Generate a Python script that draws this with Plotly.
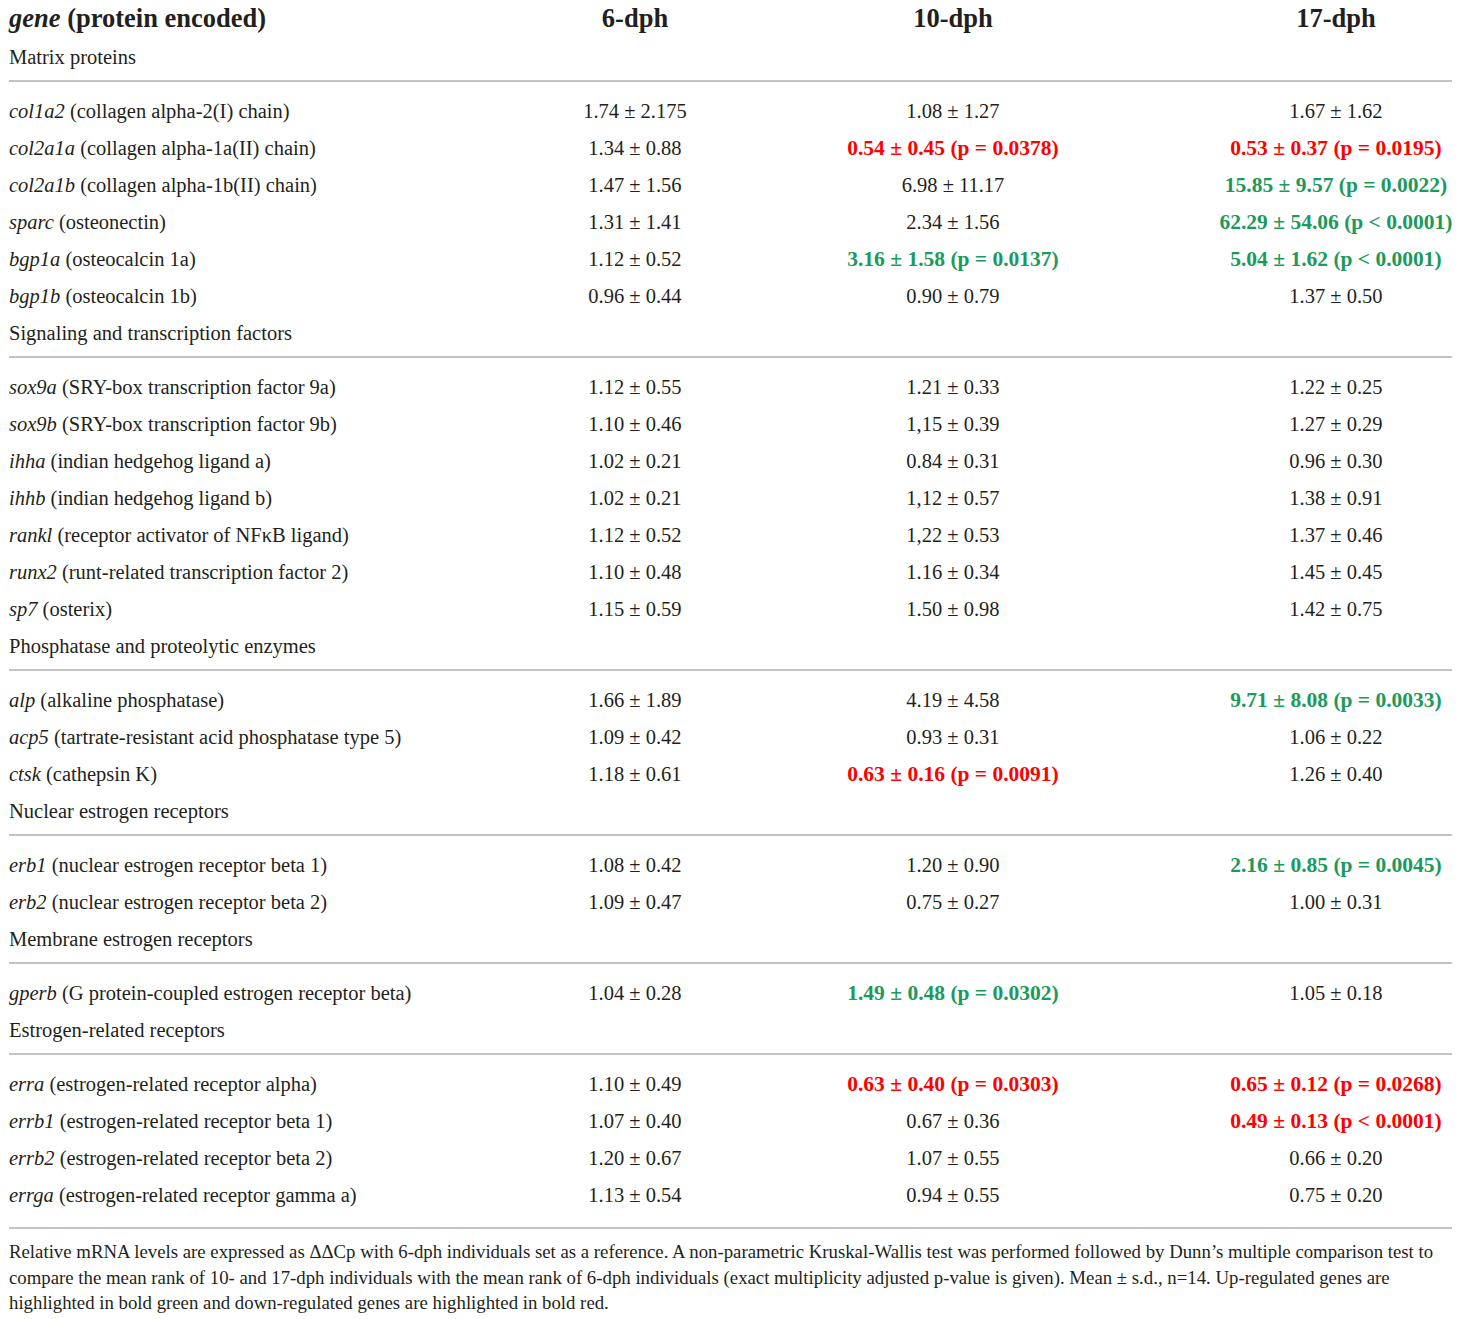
import plotly.graph_objects as go

# table content
column_titles = ["6-dph", "10-dph", "17-dph"]
section_names = ["Matrix proteins", "Signaling and transcription factors",
                 "Phosphatase and proteolytic enzymes", "Nuclear estrogen receptors",
                 "Membrane estrogen receptors", "Estrogen-related receptors"]
section_sizes = [6, 7, 3, 2, 1, 4]
genes = ["col1a2", "col2a1a", "col2a1b", "sparc", "bgp1a", "bgp1b",
         "sox9a", "sox9b", "ihha", "ihhb", "rankl", "runx2", "sp7",
         "alp", "acp5", "ctsk", "erb1", "erb2", "gperb",
         "erra", "errb1", "errb2", "errga"]
proteins = ["collagen alpha-2(I) chain", "collagen alpha-1a(II) chain", "collagen alpha-1b(II) chain",
            "osteonectin", "osteocalcin 1a", "osteocalcin 1b",
            "SRY-box transcription factor 9a", "SRY-box transcription factor 9b",
            "indian hedgehog ligand a", "indian hedgehog ligand b",
            "receptor activator of NFκB ligand", "runt-related transcription factor 2", "osterix",
            "alkaline phosphatase", "tartrate-resistant acid phosphatase type 5", "cathepsin K",
            "nuclear estrogen receptor beta 1", "nuclear estrogen receptor beta 2",
            "G protein-coupled estrogen receptor beta",
            "estrogen-related receptor alpha", "estrogen-related receptor beta 1",
            "estrogen-related receptor beta 2", "estrogen-related receptor gamma a"]
dph6 = ["1.74 ± 2.175", "1.34 ± 0.88", "1.47 ± 1.56", "1.31 ± 1.41", "1.12 ± 0.52", "0.96 ± 0.44",
        "1.12 ± 0.55", "1.10 ± 0.46", "1.02 ± 0.21", "1.02 ± 0.21", "1.12 ± 0.52", "1.10 ± 0.48",
        "1.15 ± 0.59", "1.66 ± 1.89", "1.09 ± 0.42", "1.18 ± 0.61", "1.08 ± 0.42", "1.09 ± 0.47",
        "1.04 ± 0.28", "1.10 ± 0.49", "1.07 ± 0.40", "1.20 ± 0.67", "1.13 ± 0.54"]
dph10 = ["1.08 ± 1.27", "0.54 ± 0.45", "6.98 ± 11.17", "2.34 ± 1.56", "3.16 ± 1.58", "0.90 ± 0.79",
         "1.21 ± 0.33", "1,15 ± 0.39", "0.84 ± 0.31", "1,12 ± 0.57", "1,22 ± 0.53", "1.16 ± 0.34",
         "1.50 ± 0.98", "4.19 ± 4.58", "0.93 ± 0.31", "0.63 ± 0.16", "1.20 ± 0.90", "0.75 ± 0.27",
         "1.49 ± 0.48", "0.63 ± 0.40", "0.67 ± 0.36", "1.07 ± 0.55", "0.94 ± 0.55"]
p10 = ["", "p = 0.0378", "", "", "p = 0.0137", "",
       "", "", "", "", "", "", "",
       "", "", "p = 0.0091", "", "", "p = 0.0302",
       "p = 0.0303", "", "", ""]
dph17 = ["1.67 ± 1.62", "0.53 ± 0.37", "15.85 ± 9.57", "62.29 ± 54.06", "5.04 ± 1.62", "1.37 ± 0.50",
         "1.22 ± 0.25", "1.27 ± 0.29", "0.96 ± 0.30", "1.38 ± 0.91", "1.37 ± 0.46", "1.45 ± 0.45",
         "1.42 ± 0.75", "9.71 ± 8.08", "1.06 ± 0.22", "1.26 ± 0.40", "2.16 ± 0.85", "1.00 ± 0.31",
         "1.05 ± 0.18", "0.65 ± 0.12", "0.49 ± 0.13", "0.66 ± 0.20", "0.75 ± 0.20"]
p17 = ["", "p = 0.0195", "p = 0.0022", "p < 0.0001", "p < 0.0001", "",
       "", "", "", "", "", "", "",
       "p = 0.0033", "", "", "p = 0.0045", "", "",
       "p = 0.0268", "p < 0.0001", "", ""]
footnote = [
    "Relative mRNA levels are expressed as ΔΔCp with 6-dph individuals set as a reference. A non-parametric Kruskal-Wallis test was performed followed by Dunn’s multiple comparison test to",
    "compare the mean rank of 10- and 17-dph individuals with the mean rank of 6-dph individuals (exact multiplicity adjusted p-value is given). Mean ± s.d., n=14. Up-regulated genes are",
    "highlighted in bold green and down-regulated genes are highlighted in bold red.",
]

W, H = 1460, 1319
FONT = "Liberation Serif"
INK = "#231F20"
RED = "#FF0000"
GREEN = "#1B9A5B"
RULE = "#C4C4C4"
col_x = [635, 953, 1336]
left_x = 9
DY = 2  # text "middle" sits a little high, nudge it down

# vertical layout: section label, rule, then rows
sec_y, rule_y, row_y = [], [], []
y = 57
for n in section_sizes:
    sec_y.append(y)
    rule_y.append(y + 24)
    y += 54
    for k in range(n):
        row_y.append(y)
        y += 37
last_rule = row_y[-1] + 33
foot_y = [last_rule + 23, last_rule + 49, last_rule + 74]


def cell(val, p):
    if not p:
        return val, INK, 20.5
    mean = float(val.split("±")[0].replace(",", "."))
    return "<b>%s (%s)</b>" % (val, p), (RED if mean < 1 else GREEN), 21.5


def text_trace(xs, ys, texts, pos, size, color):
    return go.Scatter(x=xs, y=[v + DY for v in ys], mode="text", textposition=pos, text=texts,
                      cliponaxis=False,
                      textfont=dict(family=FONT, size=size, color=color))


fig = go.Figure()

# header row
fig.add_trace(text_trace([left_x], [18], ["<b><i>gene</i> (protein encoded)</b>"],
                         "middle right", 26.5, INK))
fig.add_trace(text_trace(col_x, [18] * 3, ["<b>%s</b>" % t for t in column_titles],
                         "middle center", 26.5, INK))

# section labels
fig.add_trace(text_trace([left_x] * len(section_names), sec_y, section_names,
                         "middle right", 20.5, INK))

# gene names
labels = ["<i>%s</i> (%s)" % (g, p) for g, p in zip(genes, proteins)]
fig.add_trace(text_trace([left_x] * len(genes), row_y, labels, "middle right", 20.5, INK))

# value columns
for cx, vals, ps in [(col_x[0], dph6, [""] * len(dph6)), (col_x[1], dph10, p10), (col_x[2], dph17, p17)]:
    cells = [cell(v, p) for v, p in zip(vals, ps)]
    fig.add_trace(text_trace([cx] * len(vals), row_y, [c[0] for c in cells], "middle center",
                             [c[2] for c in cells], [c[1] for c in cells]))

# footnote
fig.add_trace(text_trace([left_x] * 3, foot_y, footnote, "middle right", 18.8, INK))

# rules
for ry in rule_y + [last_rule]:
    fig.add_shape(type="line", x0=left_x, x1=1452, y0=ry, y1=ry,
                  line=dict(color=RULE, width=2))

fig.update_layout(width=W, height=H, margin=dict(l=0, r=0, t=0, b=0),
                  paper_bgcolor="white", plot_bgcolor="white", showlegend=False,
                  hovermode=False)
fig.update_xaxes(range=[0, W], visible=False, fixedrange=True)
fig.update_yaxes(range=[H, 0], visible=False, fixedrange=True)

# drop the default page margin so the figure sits at the window corner
fig.write_html("out.html", config={"displayModeBar": False},
               post_script="document.body.style.margin='0';")
